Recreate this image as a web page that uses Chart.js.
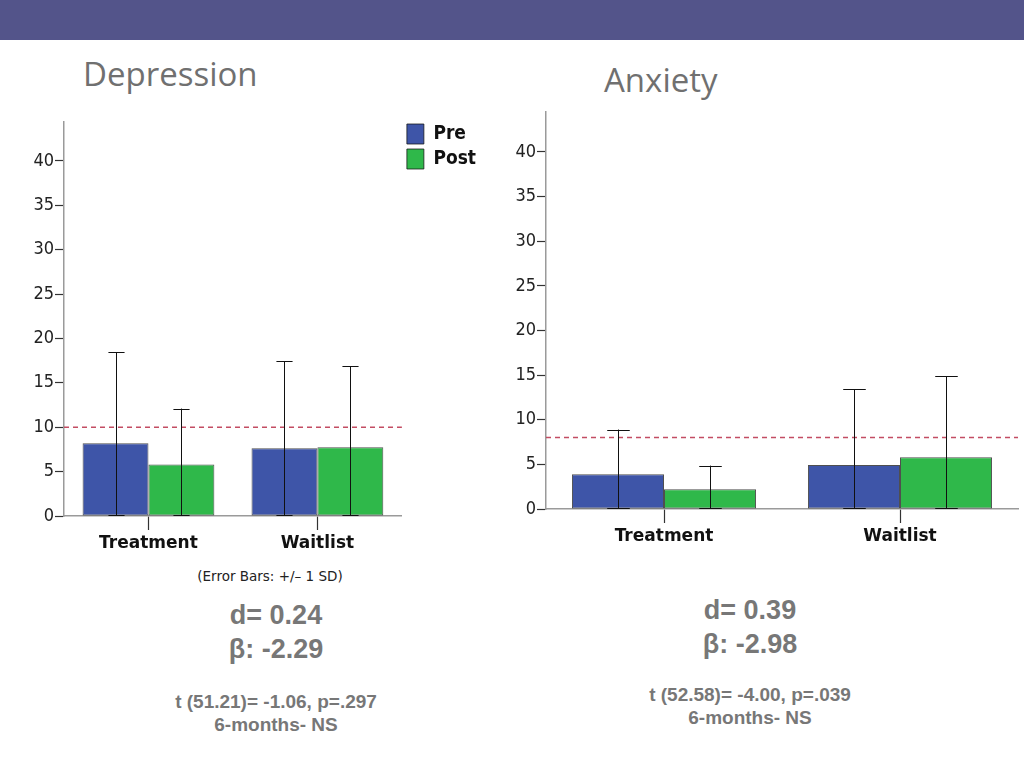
<!DOCTYPE html>
<html lang="en">
<head>
  <meta charset="UTF-8" />
  <title>Depression and Anxiety, Pre vs Post</title>
  <script src="https://cdn.jsdelivr.net/npm/chart.js"></script>
  <style>
    html, body { margin: 0; padding: 0; background: #fff; }
    body { width: 1024px; height: 768px; position: relative; overflow: hidden; }

    .band { position: absolute; left: 0; top: 0; width: 1024px; height: 40px; background: #53548a; }

    .title {
      position: absolute;
      font-family: 'Open Sans', sans-serif;
      font-size: 33px;
      color: #707070;
      line-height: 1;
      white-space: nowrap;
    }

    .box { position: absolute; }

    .note {
      position: absolute;
      font-family: 'DejaVu Sans', sans-serif;
      font-size: 13.5px;
      color: #222;
      white-space: nowrap;
      transform: translateX(-50%);
    }

    .stats {
      position: absolute;
      font-family: 'Liberation Sans', Arial, sans-serif;
      font-weight: bold;
      color: #777;
      text-align: center;
      white-space: nowrap;
      transform: translateX(-50%);
    }
    .stats .big { font-size: 27px; line-height: 34px; }
    .stats .small { font-size: 19px; line-height: 23px; }
  </style>
</head>
<body>

  <div class="band"></div>

  <div class="title" style="left:83px; top:57px;">Depression</div>
  <div class="title" style="left:604px; top:63px;">Anxiety</div>

  <!-- depression chart -->
  <div class="box" style="left:20px; top:110px; width:466px; height:446px;">
    <canvas id="depChart" width="466" height="446"></canvas>
  </div>

  <!-- anxiety chart -->
  <div class="box" style="left:500px; top:100px; width:520px; height:449px;">
    <canvas id="anxChart" width="520" height="449"></canvas>
  </div>

  <div class="note" style="left:270px; top:568px;">(Error Bars: +/&#8211; 1 SD)</div>

  <div class="stats" style="left:276px; top:598px;">
    <div class="big">d= 0.24</div>
    <div class="big">&beta;: -2.29</div>
  </div>
  <div class="stats" style="left:276px; top:690px;">
    <div class="small">t (51.21)= -1.06, p=.297</div>
    <div class="small">6-months- NS</div>
  </div>

  <div class="stats" style="left:750px; top:593px;">
    <div class="big">d= 0.39</div>
    <div class="big">&beta;: -2.98</div>
  </div>
  <div class="stats" style="left:750px; top:683px;">
    <div class="small">t (52.58)= -4.00, p=.039</div>
    <div class="small">6-months- NS</div>
  </div>

  <script>
    // data
    const groups = ['Treatment', 'Waitlist'];
    const seriesNames = ['Pre', 'Post'];

    const depPre = [8.2, 7.64];
    const depPost = [5.8, 7.75];
    const depPreSD = [10.25, 9.8];
    const depPostSD = [6.3, 9.1];
    const depCutoff = 10;
    const depMax = 44.4;

    const anxPre = [3.9, 4.94];
    const anxPost = [2.2, 5.8];
    const anxPreSD = [5.0, 8.46];
    const anxPostSD = [2.66, 9.05];
    const anxCutoff = 8;
    const anxMax = 44.5;

    const tickStep = 5;

    const preColor = '#3e55a8';
    const postColor = '#2fb84a';

    Chart.defaults.font.family = "'DejaVu Sans', sans-serif";
    Chart.defaults.color = '#222';

    // mean +/- 1 SD whiskers, clipped at 0, plus the dashed cutoff line
    const extras = {
      id: 'extras',
      afterDatasetsDraw(chart, args, opts) {
        const ctx = chart.ctx;
        const y = chart.scales.y;
        const area = chart.chartArea;

        ctx.save();
        ctx.strokeStyle = '#c34d63';
        ctx.lineWidth = 1.5;
        ctx.setLineDash([5, 4]);
        const cy = y.getPixelForValue(opts.cutoff);
        ctx.beginPath();
        ctx.moveTo(area.left, cy);
        ctx.lineTo(area.right, cy);
        ctx.stroke();
        ctx.restore();

        ctx.save();
        ctx.strokeStyle = '#111';
        ctx.lineWidth = 1;
        chart.data.datasets.forEach((ds, di) => {
          chart.getDatasetMeta(di).data.forEach((bar, i) => {
            const m = ds.data[i];
            const top = y.getPixelForValue(m + ds.sd[i]);
            const bot = y.getPixelForValue(Math.max(0, m - ds.sd[i]));
            const x = Math.round(bar.x) + 0.5;
            const half = bar.width * 0.245 / 2;
            ctx.beginPath();
            ctx.moveTo(x, top);
            ctx.lineTo(x, bot);
            ctx.moveTo(x - half, Math.round(top) + 0.5);
            ctx.lineTo(x + half, Math.round(top) + 0.5);
            ctx.moveTo(x - half, Math.round(bot) - 0.5);
            ctx.lineTo(x + half, Math.round(bot) - 0.5);
            ctx.stroke();
          });
        });
        ctx.restore();
      }
    };

    function makeChart(id, pre, post, preSD, postSD, cutoff, yMax, showLegend, yWidth, pad) {
      return new Chart(document.getElementById(id), {
        type: 'bar',
        data: {
          labels: groups,
          datasets: [
            { label: seriesNames[0], data: pre, sd: preSD, backgroundColor: preColor },
            { label: seriesNames[1], data: post, sd: postSD, backgroundColor: postColor }
          ]
        },
        options: {
          responsive: false,
          animation: false,
          layout: { padding: pad },
          datasets: {
            bar: {
              categoryPercentage: 0.78,
              barPercentage: 1,
              borderColor: 'rgba(20,20,20,0.75)',
              borderWidth: 1,
              borderSkipped: false
            }
          },
          scales: {
            x: {
              grid: { offset: false, drawOnChartArea: false, tickLength: 14, color: '#333', tickWidth: 1.2 },
              border: { color: '#9a9a9a', width: 1.5 },
              ticks: { padding: 3, color: '#111', font: { size: 17, weight: 'bold' } },
              afterFit(scale) { scale.height = 40; }
            },
            y: {
              min: 0,
              max: yMax,
              grid: { drawOnChartArea: false, tickLength: 9, color: '#333', tickWidth: 1.2 },
              border: { color: '#9a9a9a', width: 1.5 },
              ticks: {
                stepSize: tickStep, includeBounds: false, padding: 1, color: '#222',
                font: { family: "'DejaVu Sans Condensed', 'DejaVu Sans', sans-serif", size: 18 }
              },
              afterFit(scale) { scale.width = yWidth; }
            }
          },
          plugins: {
            legend: {
              display: showLegend,
              position: 'right',
              align: 'start',
              labels: {
                boxWidth: 17,
                boxHeight: 20,
                padding: 5,
                color: '#111',
                font: { family: "'DejaVu Sans Condensed', 'DejaVu Sans', sans-serif", size: 19, weight: 'bold' }
              }
            },
            tooltip: { enabled: false },
            extras: { cutoff: cutoff }
          }
        },
        plugins: [extras]
      });
    }

    makeChart('depChart', depPre, depPost, depPreSD, depPostSD, depCutoff, depMax, true, 44,
      { top: 9, right: 0, left: 0, bottom: 0 });
    makeChart('anxChart', anxPre, anxPost, anxPreSD, anxPostSD, anxCutoff, anxMax, false, 46,
      { top: 6, right: 2, left: 0, bottom: 0 });
  </script>
</body>
</html>
